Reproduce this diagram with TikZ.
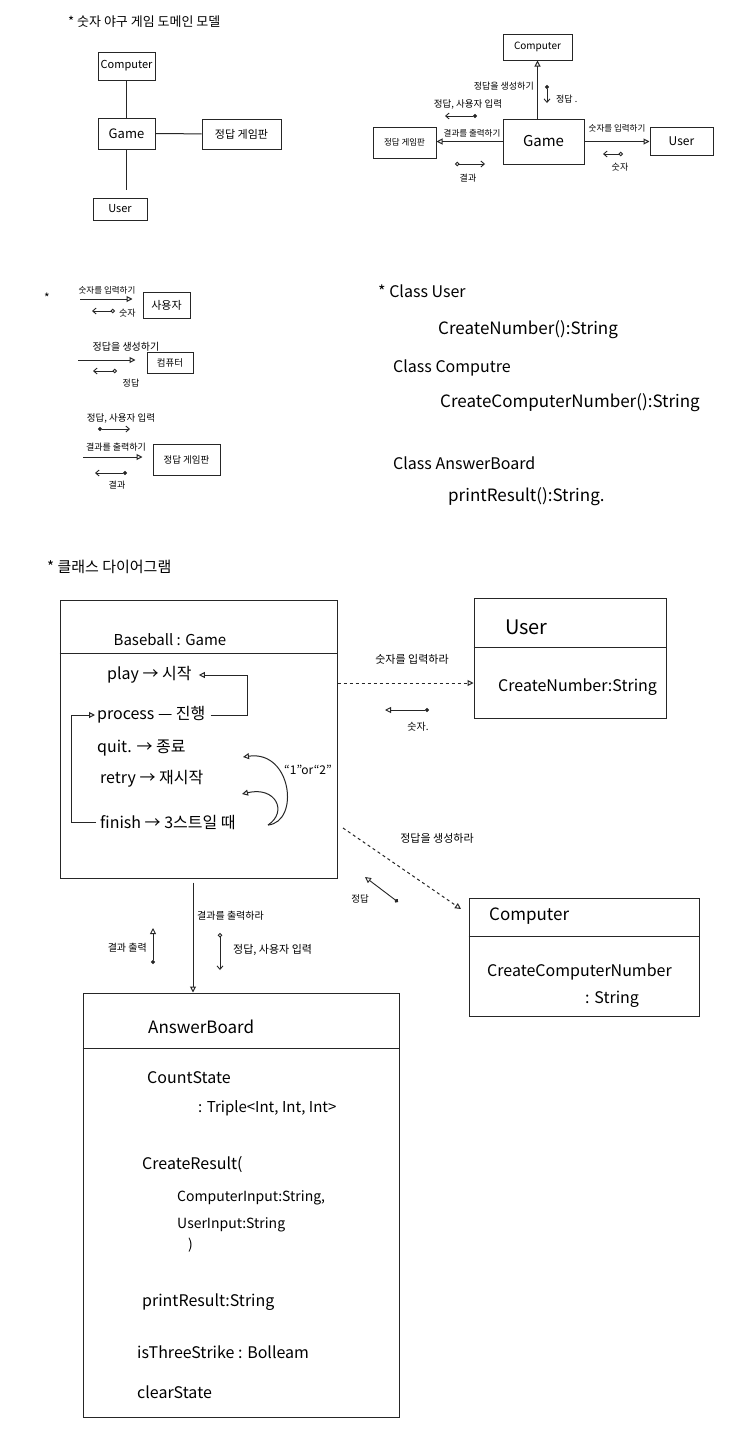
\documentclass[tikz,border=0pt]{standalone}
\usepackage{fontspec}
\setmainfont{Noto Sans CJK KR}
\usetikzlibrary{arrows.meta}
\newcommand\myfs[1]{\fontsize{#1}{#1}\selectfont}
\begin{document}
\begin{tikzpicture}[x=1pt,y=-1pt,
  ink/.style={draw=black!85, line width=1pt},
  box/.style={ink, rectangle, inner sep=0pt},
  lbl/.style={inner sep=0pt, text=black},
  tri/.style={-{Triangle[open,length=6pt,width=6pt]}},
  dotarr/.style={draw=black!85, line width=0.9pt, {Circle[length=4pt]}-{Straight Barb[length=3.5pt,width=6pt]}},
  odotarr/.style={draw=black!85, line width=0.9pt, {Circle[open,length=4.5pt]}-{Straight Barb[length=3.5pt,width=6pt]}},
  dotri/.style={draw=black!85, line width=0.9pt, {Circle[length=4pt]}-{Triangle[open,length=6pt,width=6pt]}},
]
\fill[white] (0,0) rectangle (748,1440);
\useasboundingbox (0,0) rectangle (748,1440);

% ---------- Section 1 left: domain model ----------
\node[lbl, anchor=west, font=\myfs{13}] (t1) at (68,22) {* 숫자 야구 게임 도메인 모델};
\node[box, minimum width=57pt, minimum height=28pt, font=\myfs{11}] (c1) at (126.5,66) {Computer};
\node[box, minimum width=57pt, minimum height=31pt, font=\myfs{13}] (g1) at (126.5,133.5) {Game};
\node[box, minimum width=79pt, minimum height=30pt, font=\myfs{11}] (a1) at (241.5,134) {정답 게임판};
\node[box, minimum width=54pt, minimum height=22pt, font=\myfs{11}] (u1) at (120,209) {User};
\draw[ink] (c1) -- (g1);
\draw[ink] (g1) -- (a1);
\draw[ink, shorten >=8pt] (g1.south) -- (g1.south |- u1.north);

% ---------- Section 1 right: interactions ----------
\node[box, minimum width=69pt, minimum height=26pt, font=\myfs{10}] (c2) at (537.5,47) {Computer};
\node[box, minimum width=81pt, minimum height=45pt, font=\myfs{15}] (g2) at (543.5,141.5) {Game};
\node[box, minimum width=63pt, minimum height=31pt, font=\myfs{8.5}] (a2) at (404.5,142.5) {정답 게임판};
\node[box, minimum width=63pt, minimum height=28pt, font=\myfs{12}] (u2) at (681.5,141) {User};
\draw[ink, tri] (c2.south |- g2.north) -- (c2.south);
\node[lbl, anchor=east, font=\myfs{9}] (l21) at (534,86) {정답을 생성하기};
\coordinate (p21) at (547,85); \coordinate (q21) at (547,103);
\draw[dotarr] (p21) -- (q21);
\node[lbl, anchor=west, font=\myfs{9}] (l22) at (556,99) {정답 .};
\node[lbl, font=\myfs{9.5}] (l23) at (468,104) {정답, 사용자 입력};
\coordinate (p23) at (477,116); \coordinate (q23) at (445,116);
\draw[dotarr] (p23) -- (q23);
\draw[ink, tri] (g2.west) -- (g2.west -| a2.east);
\node[lbl, font=\myfs{8.5}] (l24) at (472,133) {결과를 출력하기};
\coordinate (p24) at (455,164); \coordinate (q24) at (485,164);
\draw[odotarr] (p24) -- (q24);
\node[lbl, font=\myfs{9}] (l25) at (468,178) {결과};
\draw[ink, tri] (g2.east) -- (g2.east -| u2.west);
\node[lbl, font=\myfs{8.5}] (l26) at (617,128) {숫자를 입력하기};
\coordinate (p26) at (623,154); \coordinate (q26) at (603,154);
\draw[odotarr] (p26) -- (q26);
\node[lbl, font=\myfs{9}] (l27) at (620,167) {숫자};

% ---------- Section 2 left ----------
\node[lbl, font=\myfs{12}] (st2) at (47,298) {*};
\node[box, minimum width=47pt, minimum height=26pt, font=\myfs{11}] (u3) at (166.5,305) {사용자};
\node[lbl, font=\myfs{8.5}] (l31) at (107,290) {숫자를 입력하기};
\coordinate (p31) at (80,299);
\draw[ink, tri, shorten >=10pt] (p31) -- (p31 -| u3.west);
\coordinate (p32) at (115,311); \coordinate (q32) at (92,311);
\draw[odotarr] (p32) -- (q32);
\node[lbl, anchor=west, font=\myfs{9}] (l32) at (119,313) {숫자};

\node[box, minimum width=46pt, minimum height=21pt, font=\myfs{9.5}] (c3) at (170,362.5) {컴퓨터};
\node[lbl, font=\myfs{10}] (l33) at (126,347) {정답을 생성하기};
\coordinate (p33) at (78,360);
\draw[ink, tri, shorten >=11pt] (p33) -- (p33 -| c3.west);
\coordinate (p34) at (117,371); \coordinate (q34) at (93,371);
\draw[odotarr] (p34) -- (q34);
\node[lbl, font=\myfs{9}] (l34) at (131,383) {정답};

\node[lbl, font=\myfs{9.5}] (l35) at (121,418) {정답, 사용자 입력};
\coordinate (p35) at (98,429); \coordinate (q35) at (130,429);
\draw[dotarr] (p35) -- (q35);
\node[box, minimum width=67pt, minimum height=31pt, font=\myfs{9.5}] (a3) at (186.5,459.5) {정답 게임판};
\node[lbl, font=\myfs{9}] (l36) at (116,447) {결과를 출력하기};
\coordinate (p36) at (83,457);
\draw[ink, tri, shorten >=10pt] (p36) -- (p36 -| a3.west);
\coordinate (p37) at (127,473); \coordinate (q37) at (95,473);
\draw[dotarr] (p37) -- (q37);
\node[lbl, font=\myfs{9}] (l37) at (117,485) {결과};

% ---------- Section 2 right: class list ----------
\node[lbl, anchor=west, font=\myfs{16}] (k1) at (378,291) {* Class User};
\node[lbl, anchor=west, font=\myfs{17}] (k2) at (438,330) {CreateNumber():String};
\node[lbl, anchor=west, font=\myfs{16}] (k3) at (393,368) {Class Computre};
\node[lbl, anchor=west, font=\myfs{17}] (k4) at (440,403) {CreateComputerNumber():String};
\node[lbl, anchor=west, font=\myfs{16}] (k5) at (393,463) {Class AnswerBoard};
\node[lbl, anchor=west, font=\myfs{17}] (k6) at (448,497) {printResult():String.};

% ---------- Section 3: class diagram ----------
\node[lbl, anchor=west, font=\myfs{15}] (t3) at (47,567) {* 클래스 다이어그램};

% Baseball : Game
\node[box, minimum width=277pt, minimum height=278pt] (bb) at (198.5,739) {};
\coordinate (bbd) at (0,653);
\draw[ink] (bb.west |- bbd) -- (bb.east |- bbd);
\node[lbl, font=\myfs{15}] (bbt) at (170,640) {Baseball : Game};
\node[lbl, anchor=west, font=\myfs{16}] (pl) at (107,675) {play → 시작};
\node[lbl, anchor=west, font=\myfs{16}] (pr) at (97,715) {process — 진행};
\node[lbl, anchor=west, font=\myfs{16}] (qu) at (97,748) {quit. → 종료};
\node[lbl, anchor=west, font=\myfs{16}] (re) at (100,779) {retry → 재시작};
\node[lbl, anchor=west, font=\myfs{16}] (fi) at (100,822) {finish → 3스트일 때};
\coordinate (lx) at (247,0);
\draw[ink, tri] ([xshift=5pt]pr.east) -- (pr.east -| lx) |- ([xshift=7pt]pl.east);
\coordinate (lx2) at (71,0);
\draw[ink, tri, shorten >=2pt] ([xshift=-4pt]fi.west) -- (fi.west -| lx2) |- (pr.west);
\coordinate (fe) at (268,825);
\coordinate (qtip) at (243,757);
\coordinate (rtip) at (242,794);
\draw[ink, tri] (fe) .. controls (300,822) and (292,750) .. (qtip);
\draw[ink, tri] (fe) .. controls (288,812) and (276,786) .. (rtip);
\node[lbl, font=\myfs{12}] (orl) at (308,770) {“1”or“2”};

% User
\node[box, minimum width=192pt, minimum height=120pt] (uu) at (570,658) {};
\coordinate (uud) at (0,647);
\draw[ink] (uu.west |- uud) -- (uu.east |- uud);
\node[lbl, anchor=west, font=\myfs{20}] (uut) at (505,627) {User};
\node[lbl, anchor=west, font=\myfs{16}] (uum) at (498,687) {CreateNumber:String};
\coordinate (da1) at (0,683);
\draw[ink, dashed, tri] (bb.east |- da1) -- (uu.west |- da1);
\node[lbl, font=\myfs{11}] (l41) at (412,659) {숫자를 입력하라};
\coordinate (p42) at (429,710); \coordinate (q42) at (385,710);
\draw[dotri] (p42) -- (q42);
\node[lbl, font=\myfs{10}] (l42) at (418,727) {숫자.};

% Computer
\node[box, minimum width=230pt, minimum height=118pt] (cc) at (584,957) {};
\coordinate (ccd) at (0,936);
\draw[ink] (cc.west |- ccd) -- (cc.east |- ccd);
\node[lbl, anchor=west, font=\myfs{17}] (cct) at (489,916) {Computer};
\node[lbl, anchor=west, font=\myfs{16}] (ccm) at (487,972) {CreateComputerNumber};
\node[lbl, anchor=west, font=\myfs{16}] (ccm2) at (585,999) {: String};
\coordinate (d2s) at (343,828);
\coordinate (d2e) at (461,909);
\draw[ink, dashed, tri] (d2s) -- (d2e);
\node[lbl, font=\myfs{11}] (l43) at (437,838) {정답을 생성하라};
\coordinate (p44) at (398,902); \coordinate (q44) at (365,877);
\draw[dotri] (p44) -- (q44);
\node[lbl, font=\myfs{9.5}] (l44) at (360,899) {정답};

% AnswerBoard
\node[box, minimum width=316pt, minimum height=424pt] (ab) at (241,1205) {};
\coordinate (abd) at (0,1048);
\draw[ink] (ab.west |- abd) -- (ab.east |- abd);
\coordinate (vx) at (193,0);
\draw[ink, tri, shorten <=4pt] (bb.south -| vx) -- (ab.north -| vx);
\node[lbl, anchor=west, font=\myfs{10}] (l51) at (197,916) {결과를 출력하라};
\coordinate (p52) at (153,964); \coordinate (q52) at (153,928);
\draw[dotri] (p52) -- (q52);
\node[lbl, anchor=east, font=\myfs{10}] (l52) at (147,948) {결과 출력};
\coordinate (p53) at (220,933); \coordinate (q53) at (220,970);
\draw[odotarr] (p53) -- (q53);
\node[lbl, anchor=west, font=\myfs{11}] (l53) at (233,950) {정답, 사용자 입력};

\node[lbl, anchor=west, font=\myfs{17}] (abt) at (148,1027) {AnswerBoard};
\node[lbl, anchor=west, font=\myfs{16}] (ab1) at (147,1078) {CountState};
\node[lbl, anchor=west, font=\myfs{15}] (ab2) at (198,1108) {: Triple<Int, Int, Int>};
\node[lbl, anchor=west, font=\myfs{16}] (ab3) at (142,1165) {CreateResult(};
\node[lbl, anchor=west, font=\myfs{14}] (ab4) at (177,1198) {ComputerInput:String,};
\node[lbl, anchor=west, font=\myfs{14}] (ab5) at (177,1225) {UserInput:String};
\node[lbl, anchor=west, font=\myfs{14}] (ab6) at (188,1245) {)};
\node[lbl, anchor=west, font=\myfs{16}] (ab7) at (142,1302) {printResult:String};
\node[lbl, anchor=west, font=\myfs{16}] (ab8) at (137,1352) {isThreeStrike : Bolleam};
\node[lbl, anchor=west, font=\myfs{16}] (ab9) at (137,1392) {clearState};
\end{tikzpicture}
\end{document}
